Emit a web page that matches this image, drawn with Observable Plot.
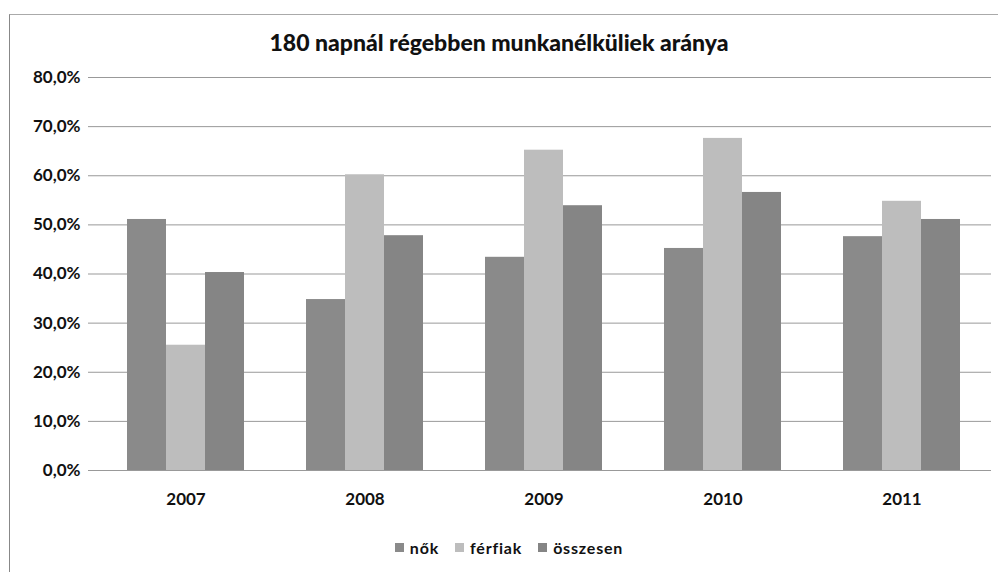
<!DOCTYPE html>
<html><head><meta charset="utf-8">
<script src="https://cdn.jsdelivr.net/npm/d3@7"></script>
<script src="https://cdn.jsdelivr.net/npm/@observablehq/plot@0.6"></script>
<style>
body{margin:0;background:#fff;font-family:Lato,"Open Sans",sans-serif;color:#111;}
#chart{position:relative;width:998px;height:572px;overflow:hidden;background:#fff;}
#frame{position:absolute;left:9px;top:14px;right:-2px;bottom:-2px;border-top:1px solid #aaa;border-left:1px solid #888;}
#title{position:absolute;top:28px;left:0;width:998px;text-align:center;font-weight:900;font-size:23px;}
#plot{position:absolute;top:62px;left:0;}
#plot g[aria-label="y-axis tick label"]{font-size:17px !important;font-weight:bold;}
#plot g[aria-label="fx-axis tick label"]{font-size:17px !important;font-weight:bold;}
#legend{position:absolute;top:538px;left:10px;width:998px;display:flex;justify-content:center;gap:16px;font-size:16px;font-weight:bold;letter-spacing:0.8px;}
#legend span.item{display:flex;align-items:center;gap:6px;}
#legend span.sw{display:inline-block;width:9px;height:9px;}
</style></head>
<body>
<div id="chart">
<div id="frame"></div>
<div id="title">180 napnál régebben munkanélküliek aránya</div>
<div id="plot"></div>
<div id="legend"></div>
</div>
<script>
const years = ["2007", "2008", "2009", "2010", "2011"];
const series = ["nők", "férfiak", "összesen"];
const colors = ["#8a8a8a", "#bdbdbd", "#858585"];
const nok = [51.1, 34.8, 43.4, 45.2, 47.6];
const ferfiak = [25.5, 60.2, 65.2, 67.6, 54.8];
const osszesen = [40.3, 47.8, 53.9, 56.6, 51.1];
const yTicks = [0, 10, 20, 30, 40, 50, 60, 70, 80];

const vals = [nok, ferfiak, osszesen];
const data = [];
years.forEach((y, i) => series.forEach((s, j) => data.push({year: y, series: s, value: vals[j][i]})));

const fmt = d => d.toFixed(1).replace(".", ",") + "%";

const plot = Plot.plot({
  width: 998,
  height: 448,
  marginTop: 15,
  marginBottom: 40,
  marginLeft: 94,
  marginRight: 6,
  style: {fontFamily: "Lato, 'Open Sans', sans-serif", fontSize: "17px", background: "transparent", color: "#111"},
  fx: {domain: years, padding: 0, label: null},
  x: {domain: series, paddingInner: 0, paddingOuter: 0.75, axis: null},
  y: {domain: [0, 80], label: null},
  color: {domain: series, range: colors},
  marks: [
    Plot.gridY(yTicks, {stroke: "#999", strokeOpacity: 1, strokeWidth: 1}),
    Plot.axisY(yTicks, {tickFormat: fmt, tickSize: 8, tickPadding: 8, stroke: "#999", label: null}),
    Plot.axisFx({anchor: "bottom", tickSize: 0, tickPadding: 22, label: null}),
    Plot.barY(data, {fx: "year", x: "series", y: "value", fill: "series"})
  ]
});
document.getElementById("plot").appendChild(plot);

const leg = document.getElementById("legend");
series.forEach((s, i) => {
  const it = document.createElement("span");
  it.className = "item";
  const sw = document.createElement("span");
  sw.className = "sw";
  sw.style.background = colors[i];
  it.appendChild(sw);
  it.appendChild(document.createTextNode(s));
  leg.appendChild(it);
});
</script>
</body></html>
